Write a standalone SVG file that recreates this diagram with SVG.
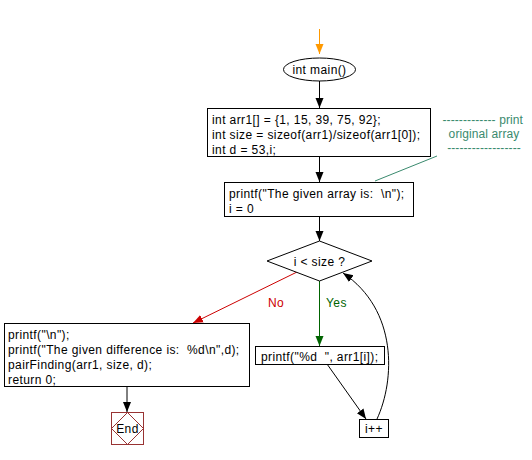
<svg xmlns="http://www.w3.org/2000/svg" width="532" height="460" viewBox="0 0 532 460">
<style>
text{font-family:"Liberation Sans",Arial,sans-serif;font-size:12px;fill:#000;white-space:pre;letter-spacing:0.4px}
.box{fill:#fff;stroke:#000;stroke-width:1}
.c{text-anchor:middle}
.cm{fill:#3a8a6e;letter-spacing:0.1px}
.ln{fill:none;stroke:#000;stroke-width:1}
</style>
<defs>
<marker id="ab" viewBox="0 0 10 10" refX="10" refY="5" markerWidth="10" markerHeight="10" markerUnits="userSpaceOnUse" orient="auto"><path d="M0,1 L10,5 L0,9 Z" fill="#000"/></marker>
<marker id="ag" viewBox="0 0 10 10" refX="10" refY="5" markerWidth="10" markerHeight="10" markerUnits="userSpaceOnUse" orient="auto"><path d="M0,1 L10,5 L0,9 Z" fill="#006400"/></marker>
<marker id="ar" viewBox="0 0 10 10" refX="10" refY="5" markerWidth="10" markerHeight="10" markerUnits="userSpaceOnUse" orient="auto"><path d="M0,1 L10,5 L0,9 Z" fill="#cc0000"/></marker>
<marker id="ao" viewBox="0 0 10 10" refX="10" refY="5" markerWidth="13" markerHeight="10" markerUnits="userSpaceOnUse" orient="auto"><path d="M0,1 L10,5 L0,9 Z" fill="#ff9900"/></marker>
</defs>
<g id="connectors">
<line x1="319.5" y1="29" x2="319.5" y2="54" stroke="#ff9900" stroke-width="1" marker-end="url(#ao)"/>
<line class="ln" x1="319.5" y1="81" x2="319.5" y2="108" marker-end="url(#ab)"/>
<line class="ln" x1="319.5" y1="157" x2="319.5" y2="182" marker-end="url(#ab)"/>
<line class="ln" x1="319.5" y1="217" x2="319.5" y2="241" marker-end="url(#ab)"/>
<line x1="319.5" y1="281" x2="319.5" y2="346" stroke="#006400" stroke-width="1" marker-end="url(#ag)"/>
<line x1="297" y1="272" x2="193" y2="323" stroke="#cc0000" stroke-width="1" marker-end="url(#ar)"/>
<line class="ln" x1="327" y1="364" x2="366" y2="419" marker-end="url(#ab)"/>
<path class="ln" d="M377,419 C395,380 398,310 343,273" marker-end="url(#ab)"/>
<line class="ln" x1="127" y1="387" x2="127" y2="412" marker-end="url(#ab)"/>
<line x1="437" y1="156" x2="375" y2="181" stroke="#3a8a6e" stroke-width="1"/>
<text x="268" y="307" style="fill:#cc0000">No</text>
<text x="326" y="307" style="fill:#006400">Yes</text>
</g>
<g id="start">
<ellipse cx="319.5" cy="69.5" rx="36" ry="11.5" class="box"/>
<text x="319.5" y="74" class="c">int main()</text>
</g>
<g id="init">
<rect x="207.5" y="108.5" width="223" height="48" class="box"/>
<text x="212" y="124">int arr1[] = {1, 15, 39, 75, 92};</text>
<text x="212" y="139">int size = sizeof(arr1)/sizeof(arr1[0]);</text>
<text x="212" y="154">int d = 53,i;</text>
</g>
<g id="comment">
<text x="523" y="124" style="text-anchor:end" class="cm">------------- print</text>
<text x="484" y="138" class="c cm">original array</text>
<text x="484" y="152" class="c cm">------------------</text>
</g>
<g id="print-header">
<rect x="224.5" y="182.5" width="189" height="34" class="box"/>
<text x="229" y="198">printf("The given array is:  \n");</text>
<text x="229" y="213">i = 0</text>
</g>
<g id="cond">
<polygon points="319.5,241 372,261 319.5,281 267,261" class="box"/>
<text x="319.5" y="266" class="c">i &lt; size ?</text>
</g>
<g id="print-elem">
<rect x="255.5" y="346.5" width="129" height="18" class="box"/>
<text x="261" y="361">printf("%d  ", arr1[i]);</text>
</g>
<g id="incr">
<rect x="359.5" y="419.5" width="29" height="18" class="box"/>
<text x="374" y="433" class="c">i++</text>
</g>
<g id="finish">
<rect x="4.5" y="323.5" width="245" height="63" class="box"/>
<text x="8" y="339">printf("\n");</text>
<text x="8" y="354">printf("The given difference is:  %d\n",d);</text>
<text x="8" y="369">pairFinding(arr1, size, d);</text>
<text x="8" y="384">return 0;</text>
</g>
<g id="end">
<rect x="111.5" y="412.5" width="32" height="32" fill="#fff" stroke="#993333"/>
<polygon points="127.5,412.5 143.5,428.5 127.5,444.5 111.5,428.5" fill="none" stroke="#993333"/>
<text x="127.5" y="433" class="c">End</text>
</g>
</svg>
